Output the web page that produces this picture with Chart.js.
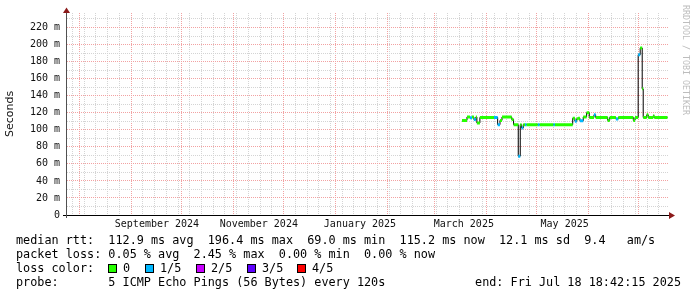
<!DOCTYPE html>
<html>
<head>
<meta charset="utf-8">
<script src="https://cdn.jsdelivr.net/npm/chart.js@4.4.0/dist/chart.umd.min.js"></script>
<style>
  html, body { margin: 0; padding: 0; background: #fff; }
  #wrap { position: relative; width: 697px; height: 297px; }
  #chart { position: absolute; left: 0; top: 0; }
  .ln { position: absolute; left: 16px; font: 11.8px "DejaVu Sans Mono", monospace; line-height: 14px; white-space: pre; color: #000; }
  .box { position: absolute; top: 264px; width: 9px; height: 9px; box-sizing: border-box; border: 1px solid #000; }
  #mark { position: absolute; left: 681px; top: 5px; font: 8.3px "DejaVu Sans Mono", monospace; color: #bdbdbd; writing-mode: vertical-rl; white-space: pre; }
</style>
</head>
<body>
<div id="wrap">
  <canvas id="chart" width="697" height="297"></canvas>
  <div id="mark">RRDTOOL / TOBI OETIKER</div>
  <div class="ln" style="top:233px">median rtt:  112.9 ms avg  196.4 ms max  69.0 ms min  115.2 ms now  12.1 ms sd  9.4   am/s</div>
  <div class="ln" style="top:247px">packet loss: 0.05 % avg  2.45 % max  0.00 % min  0.00 % now</div>
  <div class="ln" style="top:261px">loss color:</div>
  <div id="lossKeys"></div>
  <div class="ln" style="top:275px">probe:       5 ICMP Echo Pings (56 Bytes) every 120s</div>
  <div class="ln" style="top:275px; left:auto; right:16px">end: Fri Jul 18 18:42:15 2025</div>
</div>
<script>
// time axis in days, day 0 = 1 Aug 2024
const xMin = -7.9;
const xMax = 351.5;
const monthStarts = [0, 31, 61, 92, 122, 153, 184, 212, 243, 273, 304, 334];
const monthLabels = ['September 2024', 'November 2024', 'January 2025', 'March 2025', 'May 2025'];
const monthLabelDays = [46.4, 107.2, 167.6, 229.6, 289.8];
const firstWeekLine = -4; // Sundays

// y ticks in ms
const yTicks = [0, 10, 20, 30, 40, 50, 60, 70, 80, 90, 100, 110, 120, 130, 140, 150, 160, 170, 180, 190, 200, 210, 220, 230];
const yMax = 237;

// median rtt: each step starts at stepDay[i] and lasts to the next one
const stepDay = [228.5, 231.5, 233.3, 234.5, 235.6, 236.8, 237.4, 239.2, 247.6, 249.8,
  251.2, 252.4, 258.2, 259.3, 262.1, 263.3, 264.1, 265.1, 266.1, 267.1,
  273.7, 274.9, 283.0, 284.0, 294.6, 295.9, 297.0, 297.9, 298.9, 300.9,
  302.9, 304.5, 307.3, 308.3, 315.5, 316.7, 320.4, 321.8, 330.8, 331.8,
  333.7, 334.9, 336.1, 336.7, 338.8, 339.7, 342.7, 343.3];
const medianMs = [111, 115, 114, 115, 112, 115, 108, 114.5, 114.5, 106,
  111, 115, 112, 106, 69, 106, 102, 106, 106, 106,
  106, 106, 106, 106, 113.5, 110, 113, 113.5, 110.6, 115,
  120, 114.5, 117.6, 114.5, 111, 114.5, 112.5, 114.5, 111, 114.5,
  188, 196, 148, 114.5, 117.6, 114.5, 116.5, 114.5];
// lost pings out of 5
const stepLoss = [0, 0, 1, 0, 1, 0, 0, 0, 1, 1,
  0, 0, 0, 0, 1, 0, 1, 0, 1, 0,
  1, 0, 1, 0, 0, 1, 0, 0, 1, 0,
  0, 0, 1, 0, 0, 0, 1, 0, 0, 0,
  1, 0, 0, 0, 0, 0, 0, 0];
const endDay = 351.2;

const lossNames = ['0', '1/5', '2/5', '3/5', '4/5'];
const lossColors = ['#26ff00', '#00b8ff', '#c800ff', '#5e00ff', '#ff0000'];

// legend keys
const keyLeft = [108, 145, 196, 247, 297];
const keys = document.getElementById('lossKeys');
lossNames.forEach((n, i) => {
  const b = document.createElement('div');
  b.className = 'box';
  b.style.left = keyLeft[i] + 'px';
  b.style.background = lossColors[i];
  keys.appendChild(b);
  const t = document.createElement('div');
  t.className = 'ln';
  t.style.top = '261px';
  t.style.left = (keyLeft[i] + 15) + 'px';
  t.textContent = n;
  keys.appendChild(t);
});

// black stepped median
const medianPts = stepDay.map((d, i) => ({x: d, y: medianMs[i]}));
medianPts.push({x: endDay, y: medianMs[medianMs.length - 1]});

// coloured horizontal pieces, one dataset per loss level
function lossSegments(level) {
  const pts = [];
  for (let i = 0; i < stepDay.length; i++) {
    if (stepLoss[i] !== level) continue;
    const x1 = i + 1 < stepDay.length ? stepDay[i + 1] : endDay;
    pts.push({x: stepDay[i], y: medianMs[i]}, {x: x1, y: medianMs[i]}, {x: x1, y: null});
  }
  return pts;
}

const datasets = lossColors.map((c, lvl) => ({
  data: lossSegments(lvl),
  borderColor: c,
  borderWidth: 3,
  pointRadius: 0,
  spanGaps: false,
  order: 1
}));
datasets.push({
  data: medianPts,
  borderColor: '#000',
  borderWidth: 1,
  pointRadius: 0,
  stepped: 'before',
  order: 5
});

// x tick list: weekly minor, monthly major, label spots
const xTickVals = [];
const kind = {};
for (let d = firstWeekLine; d <= xMax; d += 7) {
  if (d >= xMin && !monthStarts.includes(d)) { xTickVals.push(d); kind[d] = 'minor'; }
}
monthStarts.forEach(d => { xTickVals.push(d); kind[d] = 'major'; });
monthLabelDays.forEach((d, i) => { xTickVals.push(d); kind[d] = 'label:' + i; });
xTickVals.sort((a, b) => a - b);

const minorGrid = '#d4d4d4';
const majorGrid = '#f2a2a2';

const arrows = {
  id: 'arrows',
  afterDraw(chart) {
    const {ctx, chartArea: a} = chart;
    ctx.save();
    ctx.lineWidth = 1;
    ctx.strokeStyle = '#000';
    ctx.beginPath();
    ctx.moveTo(63, a.bottom + 0.5); ctx.lineTo(a.right + 3, a.bottom + 0.5);
    ctx.stroke();
    ctx.strokeStyle = '#505050';
    ctx.beginPath();
    ctx.moveTo(a.left + 0.5, 10); ctx.lineTo(a.left + 0.5, a.bottom + 3);
    ctx.stroke();
    ctx.fillStyle = '#8b1a1a';
    ctx.beginPath();
    ctx.moveTo(a.left + 0.5, 7.5); ctx.lineTo(a.left - 3, 13); ctx.lineTo(a.left + 4, 13);
    ctx.closePath(); ctx.fill();
    ctx.beginPath();
    ctx.moveTo(a.right + 7, a.bottom + 0.5); ctx.lineTo(a.right + 1, a.bottom - 3); ctx.lineTo(a.right + 1, a.bottom + 4);
    ctx.closePath(); ctx.fill();
    ctx.restore();
  }
};

new Chart(document.getElementById('chart'), {
  type: 'line',
  data: {datasets},
  plugins: [arrows],
  options: {
    responsive: false,
    animation: false,
    devicePixelRatio: 1,
    layout: {padding: {left: 0, top: 13, right: 29, bottom: 0}},
    plugins: {legend: {display: false}, tooltip: {enabled: false}},
    scales: {
      x: {
        type: 'linear',
        min: xMin,
        max: xMax,
        afterBuildTicks: s => { s.ticks = xTickVals.map(v => ({value: v})); },
        afterFit: s => { s.height = 82; },
        ticks: {
          autoSkip: false,
          maxRotation: 0,
          padding: 3,
          color: '#111',
          font: {family: 'DejaVu Sans Mono', size: 10},
          callback: v => {
            const k = kind[v];
            return k && k.startsWith('label:') ? monthLabels[+k.split(':')[1]] : '';
          }
        },
        grid: {
          drawTicks: false,
          color: c => {
            const k = c.tick && kind[c.tick.value];
            if (k === 'major') return majorGrid;
            if (k === 'minor') return minorGrid;
            return 'rgba(0,0,0,0)';
          }
        },
        border: {color: '#000', dash: [1, 1]}
      },
      y: {
        min: 0,
        max: yMax,
        afterBuildTicks: s => { s.ticks = yTicks.map(v => ({value: v})); },
        afterFit: s => { s.width = 66; },
        ticks: {
          autoSkip: false,
          padding: 6,
          color: '#111',
          font: {family: 'DejaVu Sans Mono', size: 10},
          callback: v => v % 20 !== 0 ? '' : (v === 0 ? '0' : v + ' m')
        },
        grid: {
          drawTicks: false,
          color: c => c.tick && c.tick.value % 20 === 0 ? majorGrid : minorGrid
        },
        border: {color: '#505050', dash: [1, 1]},
        title: {
          display: true,
          text: 'Seconds',
          color: '#111',
          font: {family: 'DejaVu Sans', size: 11},
          padding: {top: 4, bottom: 0}
        }
      }
    }
  }
});
</script>
</body>
</html>
